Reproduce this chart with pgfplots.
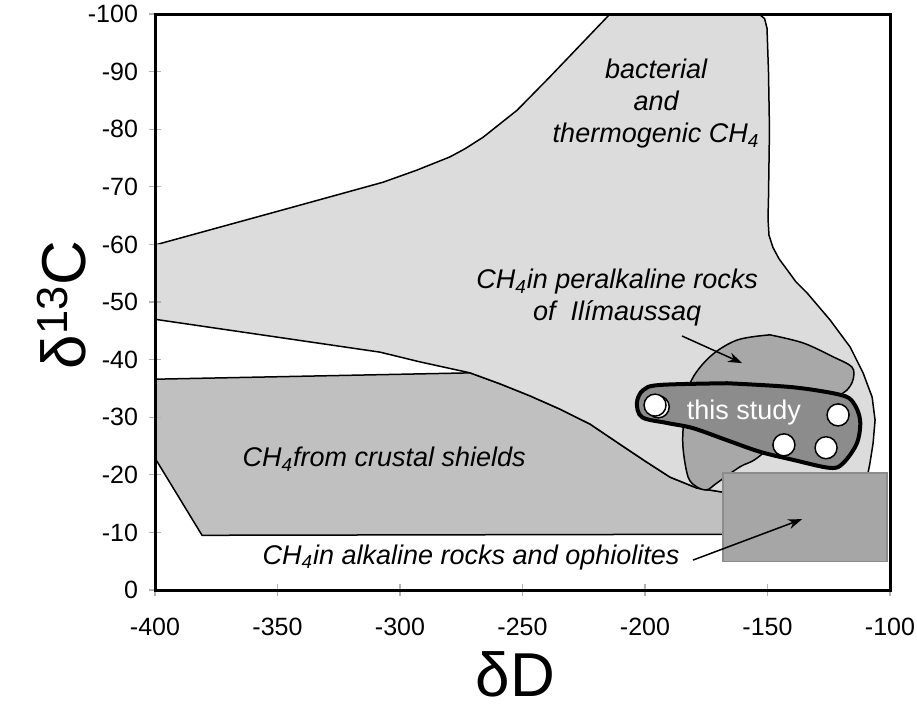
\documentclass[border=0pt]{standalone}
\usepackage{fontspec}
\setmainfont{Liberation Sans}
\usepackage{pgfplots}
\pgfplotsset{compat=1.18}
\usetikzlibrary{arrows.meta,calc}

\definecolor{lightreg}{RGB}{220,220,220}
\definecolor{crustreg}{RGB}{192,192,192}
\definecolor{perreg}{RGB}{168,168,168}
\definecolor{rectreg}{RGB}{166,166,166}
\definecolor{rectedge}{RGB}{140,140,140}
\definecolor{studyreg}{RGB}{140,140,140}

\begin{document}
\begin{tikzpicture}
\begin{axis}[
  scale only axis,
  width=367.5pt, height=288pt,
  xmin=-400, xmax=-100, ymin=-100, ymax=0,
  y dir=reverse,
  axis on top,
  xtick={-400,-350,...,-100},
  ytick={-100,-90,...,0},
  tick align=center,
  major tick length=6pt,
  xtick pos=bottom, ytick pos=left,
  tick style={gray!60, line width=0.6pt},
  axis line style={line width=1.5pt},
  /pgf/number format/assume math mode=true,
  ticklabel style={font=\fontsize{12.5}{14}\selectfont},
  xticklabel style={yshift=-7.5pt},
  yticklabel style={xshift=-2pt},
  xlabel={δD}, ylabel={δ\textsuperscript{13}C},
  label style={font=\fontsize{31}{31}\selectfont},
  xlabel style={at={(axis cs:-253,0)}, anchor=center, yshift=-42pt},
  ylabel style={at={(axis cs:-400,-49.5)}, anchor=center, yshift=46.5pt},
]

% crustal shields
\addplot[fill=crustreg, draw=black, line width=0.75pt] coordinates {
  (-400,-36.6) (-271.4,-37.7) (-259.2,-35.8) (-246.9,-33.7) (-234.7,-31.4)
  (-222.4,-28.8) (-210.2,-25.3) (-200.0,-22.4) (-189.8,-19.6) (-178.8,-17.7)
  (-168.2,-17.0) (-140,-16) (-140,-9.7) (-380.8,-9.5) (-400,-22.9)
} -- cycle;

% bacterial and thermogenic
\addplot[fill=lightreg, draw=black, line width=0.75pt] coordinates {
  (-400,-47) (-400,-59.9) (-347.8,-66.0) (-306.9,-70.8) (-293.1,-72.9)
  (-279.6,-75.2) (-273.5,-76.6) (-266.1,-78.6) (-252.2,-83.3) (-238.8,-89.1)
  (-214.3,-100) (-153.5,-100) (-151.2,-99.2) (-150.2,-97.5) (-149.6,-90)
  (-149.2,-80) (-149.6,-68) (-149.8,-64.5) (-149.4,-61.6) (-147.8,-59.5)
  (-145.3,-57.5) (-142.0,-55.6) (-138.4,-53.5) (-133.9,-51.6) (-124.5,-46.9)
  (-116.3,-42.2) (-111.0,-37.7) (-107.3,-33.5) (-106.1,-29.5) (-106.9,-25.5)
  (-108.2,-22.0) (-109.0,-20.3) (-112,-16) (-150,-15) (-168.2,-17.0)
  (-178.8,-17.7) (-189.8,-19.6) (-200.0,-22.4) (-210.2,-25.3) (-222.4,-28.8)
  (-234.7,-31.4) (-246.9,-33.7) (-259.2,-35.8) (-271.4,-37.7) (-291.8,-39.6)
  (-308.2,-41.3)
} -- cycle;

% peralkaline rocks of Ilimaussaq
\addplot[smooth, tension=0.55, fill=perreg, draw=black, line width=0.75pt] coordinates {
  (-149,-44.3) (-135.5,-42.9) (-123.3,-40.5) (-115.5,-38.7) (-115.1,-36.5)
  (-117.6,-34.7) (-122.4,-33.3) (-140,-28) (-154.3,-22.9) (-161.2,-21.4)
  (-170.6,-18.6) (-174.7,-17.4) (-178.8,-17.9) (-182.4,-19.6) (-184.5,-24.8)
  (-184.1,-29.5) (-181.6,-35.9) (-173.5,-40.5) (-162.4,-43.4) (-149,-44.3)
} -- cycle;

% alkaline rocks and ophiolites
\addplot[fill=rectreg, draw=rectedge, line width=0.6pt] coordinates {
  (-168.2,-20.3) (-101.2,-20.3) (-101.2,-4.9) (-168.2,-4.9)
} -- cycle;

% this study
\addplot[smooth, tension=0.55, fill=studyreg, draw=black, line width=2pt] coordinates {
  (-166.5,-35.9) (-139.6,-35.2) (-120.4,-33.9) (-115.1,-32.6) (-112.2,-29.5)
  (-113.5,-25.5) (-119.2,-22.0) (-124.5,-21.2) (-139.6,-22.6) (-153.1,-24.0)
  (-166.5,-26.0) (-180.4,-28.1) (-191,-29.0) (-201.2,-30.0) (-203.3,-32.5)
  (-200.8,-34.7) (-193.9,-35.6) (-166.5,-35.9)
} -- cycle;

\addplot[only marks, mark=*, mark size=5.5pt,
  mark options={fill=white, draw=black, line width=0.75pt}] coordinates {
  (-194.6,-31.8) (-195.9,-32.1) (-121.2,-30.4) (-143.3,-25.2) (-126.1,-24.7)
};

\node[font=\itshape\fontsize{13.5}{16}\selectfont, align=center]
  at (axis cs:-195.5,-84.4) {bacterial\\and\\thermogenic CH\textsubscript{4}};
\node[font=\itshape\fontsize{13.5}{16}\selectfont, align=center]
  at (axis cs:-211.4,-50.7) {CH\textsubscript{4}in peralkaline rocks\\of\ \ Ilímaussaq};
\node[font=\itshape\fontsize{13.5}{16.5}\selectfont]
  at (axis cs:-306.5,-22.7) {CH\textsubscript{4}from crustal shields};
\node[font=\itshape\fontsize{13.5}{16.5}\selectfont]
  at (axis cs:-271,-5.7) {CH\textsubscript{4}in alkaline rocks and ophiolites};
\node[font=\fontsize{13.5}{16.5}\selectfont, text=white]
  at (axis cs:-159.6,-30.9) {this study};

\draw[-{Stealth[length=7pt,width=5pt]}, line width=0.75pt]
  (axis cs:-184.9,-44.1) -- (axis cs:-160.4,-39.4);
\draw[-{Stealth[length=7pt,width=5pt]}, line width=0.75pt]
  (axis cs:-180.4,-5.2) -- (axis cs:-135.9,-12.3);

\end{axis}
\pgfresetboundingbox
\path[use as bounding box] ($(current axis.south west)+(-77.5pt,-59pt)$)
  rectangle ($(current axis.north east)+(13.5pt,7pt)$);
\end{tikzpicture}
\end{document}
